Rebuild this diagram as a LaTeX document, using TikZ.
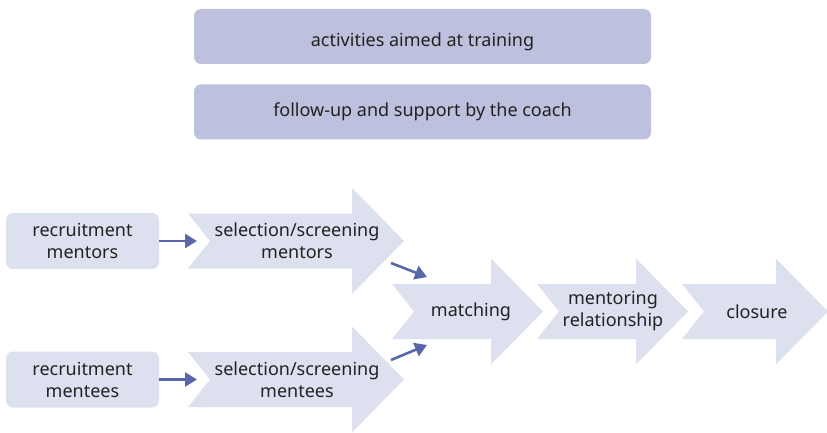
\documentclass[tikz,border=0pt]{standalone}
\usepackage{fontspec}
\setmainfont{Noto Sans}
\usepackage{tikz}
\usetikzlibrary{arrows.meta}
\definecolor{barfill}{HTML}{BDC1DD}
\definecolor{stagefill}{HTML}{DDE0EF}
\definecolor{linkblue}{HTML}{5A66AA}
\definecolor{inkgrey}{HTML}{222222}
\tikzset{
  bar/.style={fill=barfill,rounded corners=7pt,minimum width=457pt,minimum height=55pt,inner sep=0pt},
  source/.style={fill=stagefill,rounded corners=7pt,minimum width=153pt,minimum height=56pt,inner sep=0pt,align=center},
  label/.style={align=center,inner sep=0pt},
  link/.style={draw=linkblue,line width=2.6pt,-{Triangle[length=12pt,width=14pt]}},
}
% chevron arrow: left x, tip x, middle y
\newcommand{\chevron}[3]{%
  \fill[stagefill] (#1,#3-27.5) -- (#2-52,#3-27.5) -- (#2-52,#3-53) -- (#2,#3)
    -- (#2-52,#3+53) -- (#2-52,#3+27.5) -- (#1,#3+27.5) -- (#1+22,#3) -- cycle;}
\begin{document}
\begin{tikzpicture}[x=1pt,y=-1pt,font=\fontsize{18}{22}\selectfont,text=inkgrey]
\useasboundingbox (0,0) rectangle (827,433);
% bars on top
\node[bar] (training) at (422.5,36.5) {};
\node[label] (traininglabel) at (422.5,41.5) {activities aimed at training};
\node[bar] (coach) at (422.5,112) {follow-up and support by the coach};
% chevrons
\chevron{188}{404}{241}
\chevron{188}{404}{379.5}
\chevron{392}{543}{311.5}
\chevron{537}{688}{311.5}
\chevron{682}{828}{311.5}
% texts
\node[source] (recmentors) at (82.5,241) {recruitment\\mentors};
\node[source] (recmentees) at (82.5,379.5) {recruitment\\mentees};
\node[label] (selmentors) at (297,241) {selection/screening\\mentors};
\node[label] (selmentees) at (297,379.5) {selection/screening\\mentees};
\node[label] (matching) at (471,311.5) {matching};
\node[label] (relation) at (613,311.5) {mentoring\\relationship};
\node[label] (closure) at (757,311.5) {closure};
% links
\coordinate (selmentorsin) at (197,241);
\coordinate (selmenteesin) at (197,379.5);
\coordinate (outmentors) at (391,263);
\coordinate (outmentees) at (391,360);
\coordinate (matchtop) at (427,277);
\coordinate (matchbot) at (427,345);
\draw[link] (recmentors.east) -- (selmentorsin);
\draw[link] (recmentees.east) -- (selmenteesin);
\draw[link] (outmentors) -- (matchtop);
\draw[link] (outmentees) -- (matchbot);
\end{tikzpicture}
\end{document}
